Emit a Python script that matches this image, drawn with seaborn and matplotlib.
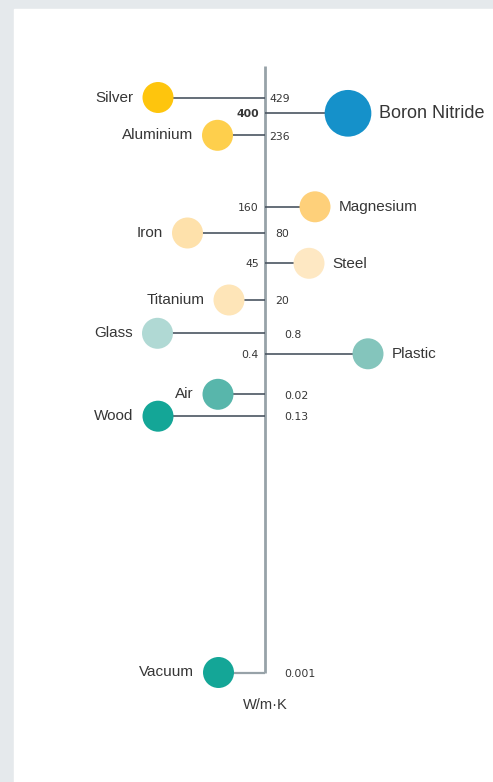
import pandas as pd
import matplotlib
import matplotlib.pyplot as plt
import seaborn as sns
from matplotlib.patches import Rectangle
matplotlib.use("Agg")

# thermal conductivity (W/m-K), laid out along a hand-placed vertical scale
materials = ['Silver', 'Boron Nitride', 'Aluminium', 'Magnesium', 'Iron', 'Steel',
             'Titanium', 'Glass', 'Plastic', 'Air', 'Wood', 'Vacuum']
values = ['429', '400', '236', '160', '80', '45', '20', '0.8', '0.4', '0.02', '0.13', '0.001']
rows = [97.5, 113.3, 135.3, 206.8, 233, 263.3, 300, 333.3, 353.8, 394.3, 416.2, 672.5]
spread = [-107, 83, -47.5, 50, -77.5, 44, -36, -107.5, 103, -47, -107, -46.5]
featured = [False, True, False, False, False, False, False, False, False, False, False, False]
colors = ['#fec50d', '#1591ca', '#fecf4c', '#fed07a', '#fee1ab', '#fee8c3',
          '#fee5b8', '#b0d9d4', '#84c5bc', '#58b6ab', '#14a697', '#14a697']

df = pd.DataFrame({'material': materials, 'value': values, 'row': rows,
                   'spread': spread, 'featured': featured})

sns.set_style('white')
plt.rcParams['font.family'] = ['Liberation Sans', 'DejaVu Sans']

fig = plt.figure(figsize=(4.93, 7.82), dpi=100)
fig.patch.set_facecolor('#e5e9ec')
ax = fig.add_axes([0, 0, 1, 1])
ax.set_xlim(-265, 228)
ax.set_ylim(782, 0)
ax.axis('off')
ax.add_patch(Rectangle((-251, 9), 500, 800, color='white', zorder=0))

text_col = '#363636'
axis_col = '#97a2a8'
num_font = ['DejaVu Sans']

# scale spine and connectors
ax.vlines(0, 65.5, df.row.iloc[-1], color=axis_col, lw=2, zorder=1)
main = df.iloc[:-1]
ax.hlines(main.row, 0, main.spread, color='#4a5561', lw=1.2, zorder=1)
ax.hlines(df.row.iloc[-1], 0, df.spread.iloc[-1], color=axis_col, lw=1.6, zorder=1)

sns.scatterplot(data=df, x='spread', y='row', hue='material', palette=colors,
                size='featured', sizes={True: 1130, False: 498}, linewidth=0,
                legend=False, ax=ax, zorder=3)

# labels next to circles and values on the scale
right_pad = {'429': 4, '236': 4, '80': 10, '20': 10}
for _, r in df.iterrows():
    rad = 23.3 if r.featured else 15.6
    if r.spread > 0:
        ax.text(r.spread + rad + 8, r.row + 0.5, r.material, ha='left', va='center',
                fontsize=13 if r.featured else 11, color=text_col)
        ax.text(-6, r.row + 1, r.value, ha='right', va='center', fontsize=7.8,
                family=num_font, color=text_col,
                fontweight='bold' if r.featured else 'normal')
    else:
        ax.text(r.spread - rad - 9, r.row, r.material, ha='right', va='center',
                fontsize=11, color=text_col)
        ax.text(right_pad.get(r.value, 19), r.row + 1.3, r.value, ha='left',
                va='center', fontsize=7.8, family=num_font, color=text_col)

ax.text(0, 705, 'W/m\u00b7K', ha='center', va='center', fontsize=10.5, color=text_col)

fig.savefig('out.png', dpi=100, facecolor=fig.get_facecolor())
